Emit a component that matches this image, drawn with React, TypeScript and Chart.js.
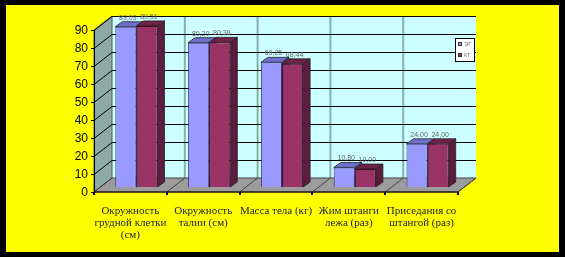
import React, { useEffect, useRef } from "react";
import { Chart, registerables } from "chart.js";

Chart.register(...registerables);

const categories: string[][] = [
  ["Окружность", "грудной клетки", "(см)"],
  ["Окружность", "талии (см)"],
  ["Масса тела (кг)"],
  ["Жим штанги", "лежа (раз)"],
  ["Приседания со", "штангой (раз)"],
];
const seriesNames = ["ЭГ", "КГ"];
const egValues = [89.03, 80.2, 69.25, 10.8, 24.0];
const kgValues = [89.51, 80.38, 68.44, 10.0, 24.0];
const yTicks = [0, 10, 20, 30, 40, 50, 60, 70, 80, 90];

const frontColors = ["#9999FF", "#993366"];
const topColors = ["#6F6FCF", "#6E2249"];
const sideColors = ["#5A5AA8", "#5C1C3D"];

// offsets (relative to bar plane)
const FRONT = { dx: -6, dy: 5 };
const BACK = { dx: 12, dy: -9 };
const DEPTH = { dx: 7, dy: -5 };

const threeD = {
  id: "threeD",
  beforeDraw(chart: any) {
    const ctx = chart.ctx as CanvasRenderingContext2D;
    const { left, right } = chart.chartArea;
    const y = chart.scales.y;
    const x = chart.scales.x;
    ctx.save();
    ctx.fillStyle = "#000";
    ctx.fillRect(0, 0, chart.width, chart.height);
    ctx.fillStyle = "#FFFF00";
    ctx.fillRect(6, 5, chart.width - 12, chart.height - 10);

    const fy = (v: number) => y.getPixelForValue(v) + FRONT.dy;
    const by = (v: number) => y.getPixelForValue(v) + BACK.dy;
    const fl = left + FRONT.dx;
    const fr = right + FRONT.dx;
    const bl = left + BACK.dx;
    const br = right + BACK.dx;
    const vmax = yTicks[yTicks.length - 1];

    // back wall
    ctx.fillStyle = "#CCFFFF";
    ctx.fillRect(bl, by(vmax), br - bl, by(0) - by(vmax));

    // vertical separators
    const n = categories.length;
    const cw = (right - left) / n;
    ctx.strokeStyle = "#88AEAE";
    ctx.lineWidth = 2;
    for (let k = 1; k < n; k++) {
      const xx = left + k * cw + BACK.dx;
      ctx.beginPath();
      ctx.moveTo(xx, by(vmax));
      ctx.lineTo(xx, by(0));
      ctx.stroke();
    }

    // side wall
    ctx.fillStyle = "#8DAAA5";
    ctx.beginPath();
    ctx.moveTo(fl, fy(vmax));
    ctx.lineTo(bl, by(vmax));
    ctx.lineTo(bl, by(0));
    ctx.lineTo(fl, fy(0));
    ctx.closePath();
    ctx.fill();
    ctx.strokeStyle = "#555";
    ctx.lineWidth = 1;
    ctx.stroke();

    // gridlines
    ctx.strokeStyle = "#000";
    ctx.lineWidth = 1;
    for (const v of yTicks) {
      if (v === 0) continue;
      ctx.beginPath();
      ctx.moveTo(fl, Math.round(fy(v)) + 0.5);
      ctx.lineTo(bl, Math.round(by(v)) + 0.5);
      ctx.lineTo(br, Math.round(by(v)) + 0.5);
      ctx.stroke();
    }

    // floor
    ctx.fillStyle = "#9C9C9C";
    ctx.beginPath();
    ctx.moveTo(fl, fy(0));
    ctx.lineTo(bl, by(0));
    ctx.lineTo(br, by(0));
    ctx.lineTo(fr, fy(0));
    ctx.closePath();
    ctx.fill();
    ctx.strokeStyle = "#444";
    ctx.stroke();
    for (let k = 0; k <= n; k++) {
      const xx = left + k * cw;
      ctx.beginPath();
      ctx.moveTo(xx + FRONT.dx, fy(0));
      ctx.lineTo(xx + BACK.dx, by(0));
      ctx.stroke();
    }

    // front axes
    ctx.strokeStyle = "#000";
    ctx.beginPath();
    ctx.moveTo(fl + 0.5, fy(vmax));
    ctx.lineTo(fl + 0.5, fy(0));
    ctx.lineTo(fr, fy(0));
    ctx.stroke();
    ctx.lineWidth = 2;
    for (let k = 0; k <= n; k++) {
      const xx = Math.round(left + k * cw + FRONT.dx);
      ctx.beginPath();
      ctx.moveTo(xx, fy(0));
      ctx.lineTo(xx, fy(0) + 3);
      ctx.stroke();
    }
    ctx.lineWidth = 1;
    ctx.fillStyle = "#000";
    ctx.font = "12px 'Liberation Sans', Arial, sans-serif";
    ctx.textAlign = "right";
    ctx.textBaseline = "middle";
    for (const v of yTicks) {
      const yy = Math.round(fy(v)) + 0.5;
      ctx.beginPath();
      ctx.moveTo(fl - 3, yy);
      ctx.lineTo(fl, yy);
      ctx.stroke();
      ctx.fillText(String(v), fl - 6, yy);
    }

    // category labels
    ctx.fillStyle = "#222";
    ctx.font = "11px 'Liberation Serif', 'Times New Roman', serif";
    ctx.textAlign = "center";
    categories.forEach((lines, i) => {
      const cx = x.getPixelForValue(i) + FRONT.dx;
      lines.forEach((ln, j) => {
        ctx.fillText(ln, cx, 211 + j * 12);
      });
    });
    ctx.restore();
  },
  beforeDatasetsDraw(chart: any) {
    const ctx = chart.ctx as CanvasRenderingContext2D;
    ctx.save();
    chart.data.datasets.forEach((ds: any, di: number) => {
      const meta = chart.getDatasetMeta(di);
      meta.data.forEach((el: any) => {
        const p = el.getProps(["x", "y", "base", "width"], true);
        const l = p.x - p.width / 2;
        const r = p.x + p.width / 2;
        // side
        ctx.fillStyle = sideColors[di];
        ctx.strokeStyle = "#222";
        ctx.lineWidth = 0.8;
        ctx.beginPath();
        ctx.moveTo(r, p.y);
        ctx.lineTo(r + DEPTH.dx, p.y + DEPTH.dy);
        ctx.lineTo(r + DEPTH.dx, p.base + DEPTH.dy);
        ctx.lineTo(r, p.base);
        ctx.closePath();
        ctx.fill();
        ctx.stroke();
        // top
        ctx.fillStyle = topColors[di];
        ctx.beginPath();
        ctx.moveTo(l, p.y);
        ctx.lineTo(l + DEPTH.dx, p.y + DEPTH.dy);
        ctx.lineTo(r + DEPTH.dx, p.y + DEPTH.dy);
        ctx.lineTo(r, p.y);
        ctx.closePath();
        ctx.fill();
        ctx.stroke();
      });
    });
    ctx.restore();
  },
  afterDatasetsDraw(chart: any) {
    const ctx = chart.ctx as CanvasRenderingContext2D;
    ctx.save();
    ctx.font = "7px 'Liberation Sans', Arial, sans-serif";
    ctx.fillStyle = "#666";
    ctx.textAlign = "center";
    ctx.textBaseline = "middle";
    chart.data.datasets.forEach((ds: any, di: number) => {
      const meta = chart.getDatasetMeta(di);
      meta.data.forEach((el: any, i: number) => {
        const p = el.getProps(["x", "y"], true);
        const txt = (ds.data[i] as number).toFixed(2).replace(".", ",");
        ctx.fillText(txt, p.x + 2, p.y - 9);
      });
    });
    // legend
    const lx = 455, ly = 38, lw = 19, lh = 23;
    ctx.fillStyle = "#fff";
    ctx.fillRect(lx, ly, lw, lh);
    ctx.strokeStyle = "#000";
    ctx.lineWidth = 1;
    ctx.strokeRect(lx + 0.5, ly + 0.5, lw, lh);
    ctx.font = "6px 'Liberation Sans', Arial, sans-serif";
    ctx.textAlign = "left";
    seriesNames.forEach((nm, i) => {
      const yy = ly + 6 + i * 11;
      ctx.fillStyle = frontColors[i];
      ctx.fillRect(lx + 3, yy - 2, 4, 4);
      ctx.strokeStyle = "#333";
      ctx.strokeRect(lx + 3.5, yy - 1.5, 3, 3);
      ctx.fillStyle = "#777";
      ctx.fillText(nm, lx + 9, yy);
    });
    ctx.restore();
  },
};

export default function App() {
  const ref = useRef<HTMLCanvasElement | null>(null);
  useEffect(() => {
    if (!ref.current) return;
    const chart = new Chart(ref.current, {
      type: "bar",
      data: {
        labels: categories.map((c) => c.join(" ")),
        datasets: [
          {
            label: seriesNames[0],
            data: egValues,
            backgroundColor: frontColors[0],
            borderColor: "#3a3a70",
            borderWidth: 1,
          },
          {
            label: seriesNames[1],
            data: kgValues,
            backgroundColor: frontColors[1],
            borderColor: "#3a1025",
            borderWidth: 1,
          },
        ],
      },
      options: {
        animation: false,
        responsive: false,
        devicePixelRatio: 1,
        layout: { padding: { left: 100, right: 101, top: 25, bottom: 70 } },
        datasets: { bar: { categoryPercentage: 0.58, barPercentage: 1.0 } },
        scales: {
          x: { display: false, offset: true },
          y: { display: false, min: 0, max: 90 },
        },
        plugins: {
          legend: { display: false },
          tooltip: { enabled: false },
        },
      },
      plugins: [threeD],
    });
    return () => chart.destroy();
  }, []);
  return (
    <div style={{ position: "absolute", left: 0, top: 0, width: 565, height: 257 }}>
      <canvas ref={ref} width={565} height={257} />
    </div>
  );
}
